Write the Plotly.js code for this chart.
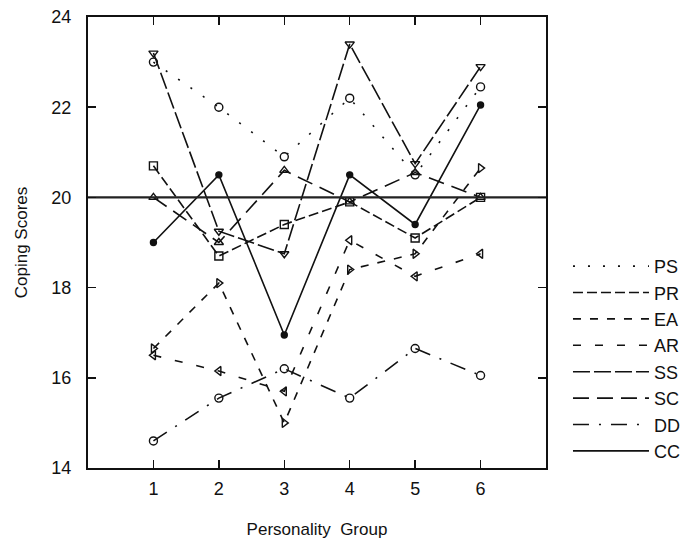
<!DOCTYPE html>
<html>
<head>
<meta charset="utf-8">
<script src="https://cdn.plot.ly/plotly-3.0.1.min.js"></script>
<style>html,body{margin:0;padding:0;background:#fff;}#chart{width:691px;height:545px;}</style>
</head>
<body>
<div id="chart"></div>
<script>
var groups = [1, 2, 3, 4, 5, 6];
var seriesNames = ["PS", "PR", "EA", "AR", "SS", "SC", "DD", "CC"];
var PS = [23.0, 22.0, 20.9, 22.2, 20.5, 22.45];
var PR = [20.7, 18.7, 19.4, 19.9, 19.1, 20.0];
var EA = [16.65, 18.1, 15.0, 18.4, 18.75, 20.65];
var AR = [16.5, 16.15, 15.7, 19.05, 18.25, 18.75];
var SS = [23.2, 19.25, 18.75, 23.4, 20.75, 22.9];
var SC = [20.0, 19.0, 20.6, 19.9, 20.55, 20.0];
var DD = [14.6, 15.55, 16.2, 15.55, 16.65, 16.05];
var CC = [19.0, 20.5, 16.95, 20.5, 19.4, 22.05];
var refLevel = [20, 20];
var xTicks = [1, 2, 3, 4, 5, 6];
var yTicks = [14, 16, 18, 20, 22, 24];

var values = [PS, PR, EA, AR, SS, SC, DD, CC];
var dashes = ["2px,13px", "10px,4px", "8px,9px", "8px,14px", "17px,4px", "16px,8px", "16px,10px,2px,10px", "solid"];
var symbols = ["circle-open", "square-open", "triangle-right-open", "triangle-left-open", "triangle-down-open", "triangle-up-open", "circle-open", "circle"];
var sizes = [8, 8, 8, 8, 8, 8, 8, 6];

var traces = [];
for (var i = 0; i < values.length; i++) {
  traces.push({
    x: groups, y: values[i], name: seriesNames[i], type: "scatter", mode: "lines+markers",
    legendgroup: seriesNames[i], showlegend: false,
    line: {color: "#111", width: 1.6, dash: dashes[i]},
    marker: {symbol: symbols[i], size: sizes[i], color: "#111", line: {color: "#111", width: 1.4}}
  });
}
// legend entries (line samples only, as in the original key)
for (var j = 0; j < values.length; j++) {
  traces.push({
    x: [null], y: [null], name: seriesNames[j], type: "scatter", mode: "lines",
    legendgroup: seriesNames[j], showlegend: true,
    line: {color: "#111", width: 1.6, dash: dashes[j]}
  });
}
traces.push({
  x: [0, 7], y: refLevel, mode: "lines", type: "scatter", showlegend: false, hoverinfo: "skip",
  line: {color: "#222", width: 2.2}
});

var layout = {
  width: 691, height: 545,
  margin: {l: 88, r: 145, t: 17, b: 77, autoexpand: false},
  paper_bgcolor: "#fff", plot_bgcolor: "#fff",
  font: {family: "Liberation Sans, Arial, sans-serif", color: "#111", size: 17},
  showlegend: true,
  legend: {x: 1.048, xanchor: "left", y: 0.488, yanchor: "top", font: {size: 18}, itemwidth: 76, bgcolor: "rgba(0,0,0,0)", tracegroupgap: 0},
  xaxis: {
    range: [0, 7], tickvals: xTicks, ticktext: xTicks.map(String),
    ticks: "inside", ticklen: 8, tickwidth: 1.5, tickcolor: "#111",
    showline: true, linewidth: 2, linecolor: "#111", mirror: "ticks",
    showgrid: false, zeroline: false, tickfont: {size: 18}, ticklabelstandoff: 3,
    title: {text: "Personality\u00a0 Group", font: {size: 17}, standoff: 26}
  },
  yaxis: {
    range: [14, 24], tickvals: yTicks, ticktext: yTicks.map(String),
    ticks: "inside", ticklen: 8, tickwidth: 1.5, tickcolor: "#111",
    showline: true, linewidth: 2, linecolor: "#111", mirror: "ticks",
    showgrid: false, zeroline: false, tickfont: {size: 18}, ticklabelstandoff: 11,
    title: {text: "Coping Scores", font: {size: 17}, standoff: 19}
  }
};
Plotly.newPlot("chart", traces, layout, {staticPlot: true});
</script>
</body>
</html>
